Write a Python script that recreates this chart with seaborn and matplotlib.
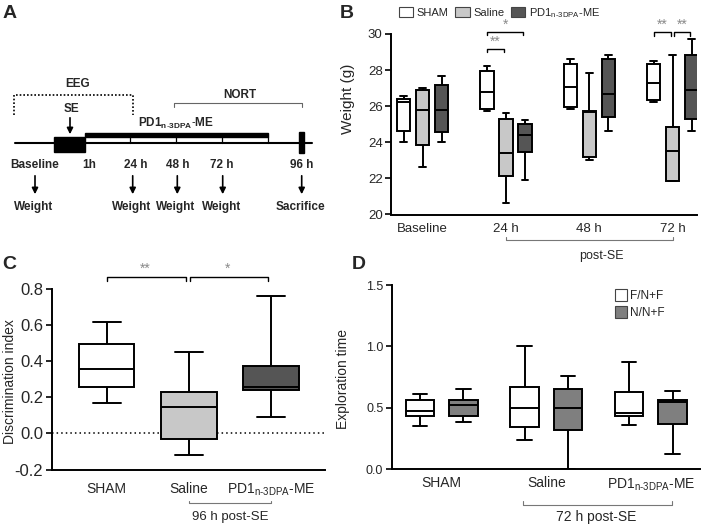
import numpy as np
import pandas as pd
import matplotlib
matplotlib.use("Agg")
import matplotlib.pyplot as plt
import matplotlib.transforms as mtransforms
from matplotlib.patches import Rectangle, Patch
import seaborn as sns

# ---------------- data (five-number summaries) ----------------
times_B = ["Baseline", "24 h", "48 h", "72 h"]
groups_B = ["SHAM", "Saline", "PD1"]
sham_B = [[24.00, 24.60, 26.25, 26.40, 26.55],
          [25.75, 25.87, 26.80, 27.94, 28.20],
          [25.85, 25.95, 27.07, 28.36, 28.62],
          [26.22, 26.35, 27.29, 28.32, 28.51]]
saline_B = [[22.63, 23.85, 25.80, 26.87, 27.00],
            [20.62, 22.15, 23.41, 25.28, 25.60],
            [23.04, 23.17, 25.70, 25.76, 27.85],
            [21.86, 21.86, 23.50, 24.84, 28.84]]
pd1_B = [[24.00, 24.57, 25.80, 27.15, 27.70],
         [21.92, 23.44, 24.40, 25.03, 25.21],
         [24.64, 25.40, 26.70, 28.62, 28.82],
         [24.64, 25.27, 26.89, 28.86, 29.70]]

groups_C = ["SHAM", "Saline", "PD1"]
di_C = [[0.167, 0.259, 0.357, 0.494, 0.617],
        [-0.122, -0.030, 0.148, 0.228, 0.452],
        [0.094, 0.241, 0.259, 0.374, 0.763]]

groups_D = ["SHAM", "Saline", "PD1"]
objects_D = ["F/N+F", "N/N+F"]
fam_D = [[0.353, 0.437, 0.472, 0.561, 0.610],
         [0.241, 0.347, 0.502, 0.673, 1.000],
         [0.361, 0.437, 0.461, 0.632, 0.876]]
nov_D = [[0.388, 0.437, 0.523, 0.561, 0.654],
         [0.000, 0.323, 0.499, 0.654, 0.757],
         [0.127, 0.366, 0.545, 0.561, 0.640]]

PD1_LABEL = r"PD1$_{\mathregular{n\text{-}3DPA}}$-ME"

# timeline (panel A) labels
tl_time_labels = ["Baseline", "1h", "24 h", "48 h", "72 h", "96 h"]
tl_event_labels = ["Weight", "Weight", "Weight", "Weight", "Sacrifice"]

# ---------------- style ----------------
sns.set_style("ticks")
plt.rcParams["font.family"] = ["Liberation Sans", "DejaVu Sans"]
plt.rcParams["mathtext.fontset"] = "custom"
plt.rcParams["mathtext.rm"] = "Liberation Sans"
plt.rcParams["mathtext.it"] = "Liberation Sans:italic"
plt.rcParams["mathtext.bf"] = "Liberation Sans:bold"
plt.rcParams["axes.unicode_minus"] = False

W, H = 701, 527
fig = plt.figure(figsize=(W / 100, H / 100), dpi=100)

WHITE, LGRAY, DGRAY, MGRAY = "#ffffff", "#c8c8c8", "#555555", "#7f7f7f"
STAR = "#8a8a8a"
LW = 1.4


def ax_rect(l, r, top, bot):
    return [l / W, 1 - bot / H, (r - l) / W, (bot - top) / H]


def style_axis(ax):
    sns.despine(ax=ax)
    for s in ("left", "bottom"):
        ax.spines[s].set_linewidth(1.4)
        ax.spines[s].set_color("black")
    ax.tick_params(axis="y", length=4, width=1.2, direction="out", color="black")
    ax.tick_params(axis="x", length=0)
    ax.set_xlabel("")


def bracket(ax, x1, x2, y, h, color="black", lw=1.0, trans=None, down=True):
    ys = [y - h, y, y, y - h] if down else [y + h, y, y, y + h]
    ax.plot([x1, x1, x2, x2], ys, color=color, lw=lw, clip_on=False,
            transform=trans if trans is not None else ax.transData)


# ---------------- overlay (panel A + letters) ----------------
axO = fig.add_axes([0, 0, 1, 1])
axO.set_xlim(0, W)
axO.set_ylim(H, 0)
axO.axis("off")

for letter, (lx, ly) in zip("ABCD", [(3, 5), (340, 5), (2, 256), (352, 256)]):
    axO.text(lx, ly, letter, fontsize=14, fontweight="bold", va="top", ha="left")

bold = dict(fontsize=8.5, fontweight="bold", ha="center", va="center")
# timeline
axO.plot([15, 312], [143, 143], color="black", lw=1.5)
axO.add_patch(Rectangle((54, 137.3), 31, 14.4, color="black"))
axO.add_patch(Rectangle((85, 132.7), 183, 4.6, color="black"))
for tx in [130, 176, 221.7, 267.5]:
    axO.plot([tx, tx], [137, 143], color="black", lw=0.9)
axO.add_patch(Rectangle((299, 131.7), 5, 21.6, color="black"))
# EEG dotted bracket
axO.plot([14, 14, 132.7, 132.7], [115, 95, 95, 115], color="black", lw=1.2, ls=(0, (1, 1.2)))
axO.text(78, 84, "EEG", **bold)
axO.text(71, 109, "SE", **bold)
axO.annotate("", xy=(70, 137), xytext=(70, 115),
             arrowprops=dict(arrowstyle="-|>", color="black", lw=1.2, mutation_scale=9))
# NORT bracket
axO.plot([174, 174, 302.3, 302.3], [107, 103, 103, 107], color="#666666", lw=0.8)
axO.text(240, 95, "NORT", **bold)
axO.text(176, 123, r"$\mathbf{PD1}_{\mathbf{n\text{-}3DPA}}\text{-}\mathbf{ME}$",
         fontsize=8.5, ha="center", va="center")
# time labels and arrows
for lab, tx in zip(tl_time_labels, [35, 89.3, 136, 177.3, 221.7, 301.7]):
    axO.text(tx, 165, lab, **bold)
for lab, tx in zip(tl_event_labels, [35, 132.7, 177.3, 222.7, 301.7]):
    axO.annotate("", xy=(tx, 197), xytext=(tx, 173),
                 arrowprops=dict(arrowstyle="-|>", color="black", lw=1.2, mutation_scale=9))
    axO.text(tx - 1.5, 207, lab, **bold)

# ---------------- panel B ----------------
rows = []
for ti, t in enumerate(times_B):
    for g, arr in zip(groups_B, [sham_B, saline_B, pd1_B]):
        for v in arr[ti]:
            rows.append({"time": t, "group": g, "weight": v})
dfB = pd.DataFrame(rows)

axB = fig.add_axes(ax_rect(391, 697, 34, 214.5))
wB = 0.684
sns.boxplot(data=dfB, x="time", y="weight", hue="group", order=times_B, hue_order=groups_B,
            palette=[WHITE, LGRAY, DGRAY], width=wB, gap=0.29, whis=(0, 100), saturation=1,
            linecolor="black", linewidth=LW, fliersize=0, legend=False, ax=axB)
style_axis(axB)
axB.set_xlim(-0.38, 3.293)
axB.set_ylim(20, 30)
axB.set_yticks(np.arange(20, 31, 2))
axB.tick_params(axis="y", labelsize=9.5, pad=2)
axB.tick_params(axis="x", labelsize=9.5, pad=6)
axB.set_ylabel("Weight (g)", fontsize=11)
axB.yaxis.set_label_coords(-0.118, 0.643)
off = wB / 3
bracket(axB, 1 - off, 0.98, 29.19, 0.2)
axB.text((1 - off + 0.98) / 2, 29.2, "**", color=STAR, fontsize=10, ha="center", va="bottom")
bracket(axB, 1 - off, 1 + off - 0.02, 30.13, 0.19)
axB.text(1.0, 30.14, "*", color=STAR, fontsize=10, ha="center", va="bottom")
bracket(axB, 3 - off, 2.98, 30.09, 0.2)
axB.text((3 - off + 2.98) / 2, 30.1, "**", color=STAR, fontsize=10, ha="center", va="bottom")
bracket(axB, 3.02, 3 + off - 0.02, 30.09, 0.2)
axB.text((3.02 + 3 + off - 0.02) / 2, 30.1, "**", color=STAR, fontsize=10, ha="center", va="bottom")
tB = mtransforms.blended_transform_factory(axB.transData, axB.transAxes)
bracket(axB, 1, 3, -0.144, 0.017, color="#777777", lw=0.8, trans=tB, down=False)
axB.text(2.15, -0.232, "post-SE", transform=tB, fontsize=9, ha="center", va="center")
handles = [Patch(facecolor=c, edgecolor="#444444", lw=0.8) for c in [WHITE, LGRAY, DGRAY]]
fig.legend(handles, ["SHAM", "Saline", PD1_LABEL], loc="upper left",
           bbox_to_anchor=(399 / W, 1 - 6 / H), ncol=3, frameon=False, fontsize=8,
           handlelength=1.3, handleheight=1.0, handletextpad=0.3, columnspacing=0.6,
           borderpad=0, borderaxespad=0)

# ---------------- panel C ----------------
dfC = pd.DataFrame([{"group": g, "di": v} for g, arr in zip(groups_C, di_C) for v in arr])
axC = fig.add_axes(ax_rect(51.5, 325, 289.3, 469.5))
axC.axhline(0, color="black", lw=1.1, ls=(0, (1, 2)), zorder=0.5)
sns.boxplot(data=dfC, x="group", y="di", hue="group", order=groups_C, hue_order=groups_C,
            palette=[WHITE, LGRAY, DGRAY], width=0.675, dodge=False, whis=(0, 100),
            saturation=1, linecolor="black", linewidth=LW, fliersize=0, legend=False, ax=axC)
style_axis(axC)
axC.set_xlim(-0.674, 2.66)
axC.set_ylim(-0.2, 0.8)
axC.set_yticks(np.arange(-0.2, 0.81, 0.2))
axC.set_yticklabels([f"{v:.1f}" for v in np.arange(-0.2, 0.81, 0.2)])
axC.set_xticks(range(3))
axC.set_xticklabels(["SHAM", "Saline", PD1_LABEL])
axC.tick_params(axis="y", labelsize=12, pad=2)
axC.tick_params(axis="x", labelsize=10, pad=9)
axC.set_ylabel("Discrimination index", fontsize=10)
axC.yaxis.set_label_coords(-0.126, 0.487)
bracket(axC, 0, 0.963, 0.866, 0.018)
axC.text(0.47, 0.873, "**", color=STAR, fontsize=10, ha="center", va="bottom")
bracket(axC, 1.02, 1.967, 0.866, 0.018)
axC.text(1.475, 0.873, "*", color=STAR, fontsize=10, ha="center", va="bottom")
tC = mtransforms.blended_transform_factory(axC.transData, axC.transAxes)
bracket(axC, 1, 2, -0.187, 0.013, color="#777777", lw=0.8, trans=tC, down=False)
axC.text(1.5, -0.264, "96 h post-SE", transform=tC, fontsize=9.5, ha="center", va="center")

# ---------------- panel D ----------------
rowsD = []
for gi, g in enumerate(groups_D):
    for o, arr in zip(objects_D, [fam_D, nov_D]):
        for v in arr[gi]:
            rowsD.append({"group": g, "object": o, "time": v})
dfD = pd.DataFrame(rowsD)
axD = fig.add_axes(ax_rect(391.7, 700, 285, 469.3))
sns.boxplot(data=dfD, x="group", y="time", hue="object", order=groups_D, hue_order=objects_D,
            palette=[WHITE, MGRAY], width=0.832, gap=0.34, whis=(0, 100), saturation=1,
            linecolor="black", linewidth=LW, fliersize=0, legend=False, ax=axD)
style_axis(axD)
axD.set_xlim(-0.478, 2.47)
axD.set_ylim(0, 1.5)
axD.set_yticks([0, 0.5, 1.0, 1.5])
axD.set_yticklabels(["0.0", "0.5", "1.0", "1.5"])
axD.set_xticks(range(3))
axD.set_xticklabels(["SHAM", "Saline", PD1_LABEL])
axD.tick_params(axis="y", labelsize=9, pad=2)
axD.tick_params(axis="x", labelsize=10, pad=5)
axD.set_ylabel("Exploration time", fontsize=10)
axD.yaxis.set_label_coords(-0.136, 0.49)
tD = mtransforms.blended_transform_factory(axD.transData, axD.transAxes)
bracket(axD, 0.78, 2.2, -0.194, 0.022, color="#777777", lw=0.8, trans=tD, down=False)
axD.text(1.48, -0.259, "72 h post-SE", transform=tD, fontsize=10, ha="center", va="center")
handlesD = [Patch(facecolor=c, edgecolor="#444444", lw=0.8) for c in [WHITE, MGRAY]]
fig.legend(handlesD, objects_D, loc="upper left", bbox_to_anchor=(615 / W, 1 - 289 / H),
           frameon=False, fontsize=8.5, handlelength=1.0, handleheight=1.2,
           handletextpad=0.3, labelspacing=0.35, borderpad=0, borderaxespad=0)

fig.savefig("out.png", dpi=100)
